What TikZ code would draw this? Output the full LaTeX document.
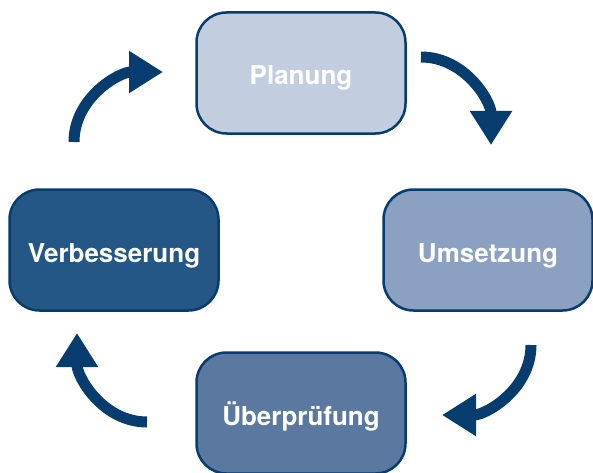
\documentclass[tikz,border=0pt]{standalone}
\usepackage{fontspec}
\setmainfont{TeX Gyre Heros}
\usepackage{tikz}
\usetikzlibrary{arrows.meta,positioning}
\definecolor{navy}{HTML}{063D6E}
\definecolor{fillA}{HTML}{C3CDE0}
\definecolor{fillB}{HTML}{8CA0C1}
\definecolor{fillC}{HTML}{5B78A0}
\definecolor{fillD}{HTML}{245686}

\begin{document}
\begin{tikzpicture}[x=1pt,y=1pt,
  phase/.style={shape=rectangle,rounded corners=30pt,draw=navy,line width=2.5pt,
    minimum width=209pt,minimum height=121pt,text=white,text height=24pt,text depth=0pt,
    font=\fontsize{26}{30}\selectfont\bfseries},
  cycle/.style={draw=navy,line width=11pt,-{Triangle[length=34pt,width=40pt]}}]
\path[use as bounding box] (0,0) rectangle (593,472);
\node[phase,fill=fillA] (plan) at (301,399) {Planung};
\node[phase,fill=fillB] (umse) at (488,222) {Umsetzung};
\node[phase,fill=fillC] (pruef) at (301,59) {Überprüfung};
\node[phase,fill=fillD] (verb) at (114,222) {Verbesserung};
\coordinate (a1s) at (74,330);  \coordinate (a1e) at (163,400);
\coordinate (a2s) at (421,415); \coordinate (a2e) at (491,327);
\coordinate (a3s) at (531,127); \coordinate (a3e) at (442,57);
\coordinate (a4s) at (147,50);  \coordinate (a4e) at (77,139);
\draw[cycle] (a1s) to[out=90,in=180] (a1e);
\draw[cycle] (a2s) to[out=0,in=90] (a2e);
\draw[cycle] (a3s) to[out=-90,in=0] (a3e);
\draw[cycle] (a4s) to[out=180,in=-90] (a4e);
\end{tikzpicture}
\end{document}
